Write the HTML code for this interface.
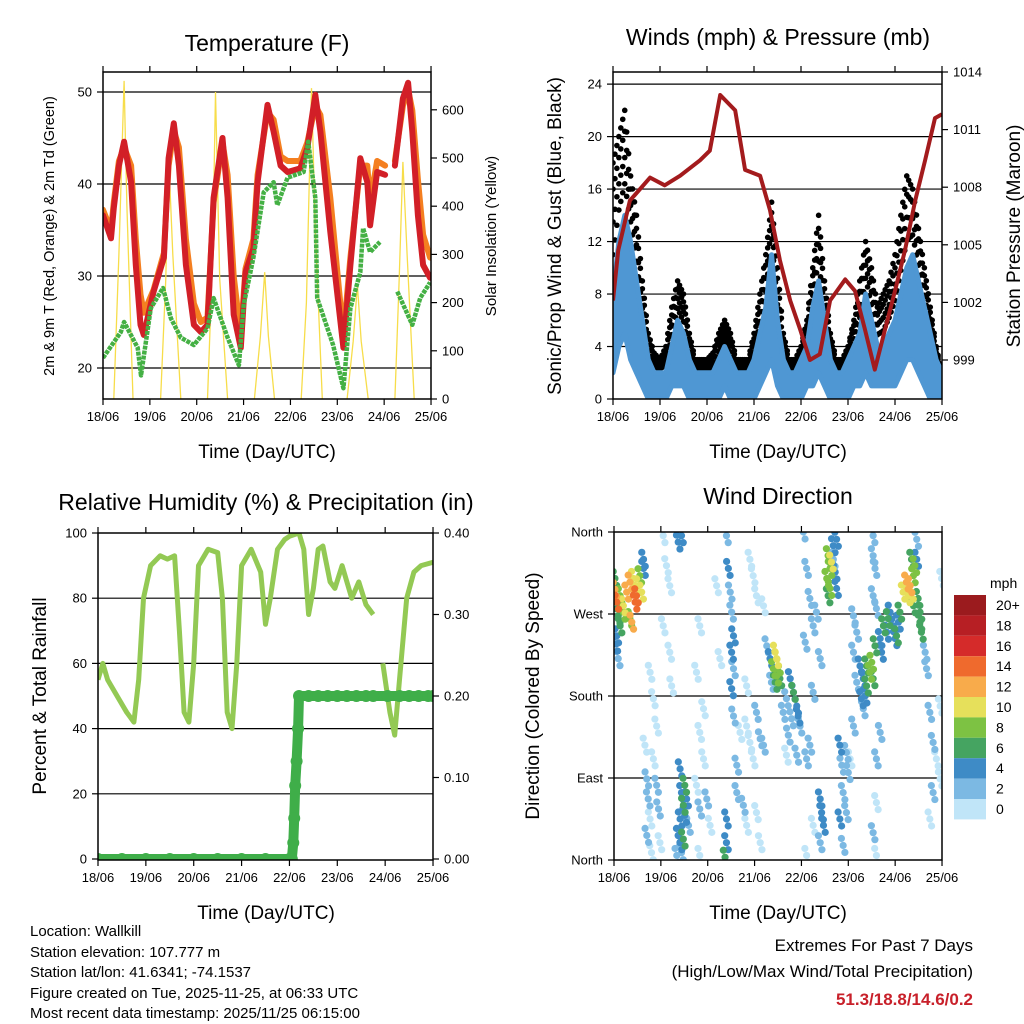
<!DOCTYPE html>
<html><head><meta charset="utf-8">
<style>
html,body{margin:0;padding:0;background:#fff;}
svg{display:block;font-family:"Liberation Sans",sans-serif;}
</style></head>
<body>
<svg id="root" width="1024" height="1024" viewBox="0 0 1024 1024">
<rect x="0" y="0" width="1024" height="1024" fill="#fff"/>
<text x="267" y="51" font-size="23" text-anchor="middle">Temperature (F)</text>
<text x="778" y="45" font-size="23" text-anchor="middle">Winds (mph) &amp; Pressure (mb)</text>
<text x="266" y="510" font-size="23" text-anchor="middle">Relative Humidity (%) &amp; Precipitation (in)</text>
<text x="778" y="504" font-size="23" text-anchor="middle">Wind Direction</text>
<text x="267" y="458" font-size="19" text-anchor="middle">Time (Day/UTC)</text>
<text x="778" y="458" font-size="19" text-anchor="middle">Time (Day/UTC)</text>
<text x="266" y="919" font-size="19" text-anchor="middle">Time (Day/UTC)</text>
<text x="778" y="919" font-size="19" text-anchor="middle">Time (Day/UTC)</text>
<text transform="translate(54,236) rotate(-90)" font-size="14.5" text-anchor="middle">2m &amp; 9m T (Red, Orange) &amp; 2m Td (Green)</text>
<text transform="translate(496,236) rotate(-90)" font-size="15" text-anchor="middle">Solar Insolation (Yellow)</text>
<text transform="translate(561,236) rotate(-90)" font-size="19" text-anchor="middle">Sonic/Prop Wind &amp; Gust (Blue, Black)</text>
<text transform="translate(1020,236) rotate(-90)" font-size="19" text-anchor="middle">Station Pressure (Maroon)</text>
<text transform="translate(46,696) rotate(-90)" font-size="19" text-anchor="middle">Percent &amp; Total Rainfall</text>
<text transform="translate(539,696) rotate(-90)" font-size="19" text-anchor="middle">Direction (Colored By Speed)</text>
<g font-size="15">
<text x="30" y="936">Location: Wallkill</text>
<text x="30" y="957">Station elevation: 107.777 m</text>
<text x="30" y="977">Station lat/lon: 41.6341; -74.1537</text>
<text x="30" y="998">Figure created on Tue, 2025-11-25, at 06:33 UTC</text>
<text x="30" y="1018">Most recent data timestamp: 2025/11/25 06:15:00</text>
</g>
<g font-size="17" text-anchor="end">
<text x="973" y="951">Extremes For Past 7 Days</text>
<text x="973" y="977">(High/Low/Max Wind/Total Precipitation)</text>
<text x="973" y="1005" font-weight="bold" fill="#c8202a">51.3/18.8/14.6/0.2</text>
</g>
<g id="marks"></g>
</svg>
<script>
// ---------- DATA ----------
const dayLabels = ["18/06","19/06","20/06","21/06","22/06","23/06","24/06","25/06"];
const tRedT = [0,0.17,0.23,0.34,0.45,0.6,0.7,0.8,0.87,1.08,1.3,1.4,1.51,1.62,1.77,1.94,2.09,2.23,2.36,2.55,2.66,2.79,2.94,3.04,3.21,3.3,3.51,3.64,3.79,3.94,4.21,4.36,4.53,4.64,4.85,5.13,5.28,5.49,5.64,5.7,5.85,6.02,null,6.23,6.4,6.51,6.6,6.72,6.83,6.98];
const tRedV = [36.6,34.1,37.4,42,44.6,40.2,31.2,24.7,23.6,28.3,32,42.8,46.6,42,31.2,24.7,23.9,24.7,38.5,45,38.5,25.8,22.2,30.4,33,40.2,48.6,45.7,42,41.3,41.7,43.9,49.7,45.7,34.8,22.2,31.2,42.8,40.2,35.5,41.3,41,null,42,49.3,51,45.7,36.6,31.2,29.8];
const tOrgV = [37.2,35,38,42.5,44,42,34,28,26,28.5,32.5,42,45.8,44,34,27,25,25.5,38,44.5,41,30,23.5,30.8,34,41,47.8,47,43,42.5,42.5,44.5,48.5,47.5,38.5,23.5,32,42,42,38,42.5,42,null,42.5,48.5,50.3,48,40.5,34.5,32];
const tdT = [0,0.38,0.45,0.74,0.81,1.02,1.28,1.45,1.66,1.94,2.23,2.36,2.66,2.9,3.0,3.21,3.43,3.64,3.72,3.94,4.28,4.38,4.53,4.57,4.91,5.13,5.28,5.49,5.55,5.7,5.91,null,6.28,6.6,6.77,6.98];
const tdV = [21.1,23.9,25,22.2,19.2,26.5,28.7,25.4,23.3,22.5,24.3,27.6,23.3,20.3,26.8,32,39.1,40.2,37.7,40.7,41.3,44.6,38.5,27.6,22.5,17.8,26.5,30.4,35.2,32.6,33.7,null,28.3,24.7,27.6,29.3];
const solT = [0.23,0.34,0.45,0.51,0.64,null,1.23,1.34,1.4,1.49,1.66,null,2.23,2.34,2.4,2.49,2.66,null,3.23,3.36,3.45,3.53,3.66,null,4.23,4.34,4.45,4.53,4.68,null,5.21,5.34,5.43,5.51,5.66,null,6.23,6.32,6.4,6.49,6.64];
const solV = [0,300,660,400,0,null,0,250,506,300,0,null,0,300,637,250,0,null,0,130,263,130,0,null,0,200,645,350,0,null,0,120,236,120,0,null,0,250,492,300,0];
const windT = [0,0.125,0.25,0.375,0.5,0.625,0.75,0.875,1,1.125,1.25,1.375,1.5,1.625,1.75,1.875,2,2.125,2.25,2.375,2.5,2.625,2.75,2.875,3,3.125,3.25,3.375,3.5,3.625,3.75,3.875,4,4.125,4.25,4.375,4.5,4.625,4.75,4.875,5,5.125,5.25,5.375,5.5,5.625,5.75,5.875,6,6.125,6.25,6.375,6.5,6.625,6.75,6.875,7];
const windHigh = [8,12,14,12,9,6,3,2,2,2,4,6,5,3,2,2,2,2,3,4,3,2,2,2,3,5,7,11,6,3,2,2,3,4,7,9,6,3,2,2,3,4,5,8,6,4,4,5,6,8,10,11,9,7,5,3,2];
const windLow = [2,4,5,3,2,1,0,0,0,0,1,1,1,0,0,0,0,0,0,1,0,0,0,0,0,1,2,3,1,0,0,0,0,1,1,2,1,0,0,0,0,1,1,2,1,1,1,1,1,2,3,3,2,1,0,0,0];
const gustV = [18,20,22,17,14,9,5,3.5,3,4,7,9,8,5,3,3,3,3.5,5,6,5,3,3,3,5,8,11,15,10,5,3,3,4,6,10,14,9,5,3,3,4,6,9,12,10,7,8,9,11,14,17,16,13,10,7,4,2];
const presT = [0,0.11,0.36,0.79,1.1,1.43,1.85,2.06,2.28,2.6,2.81,3.13,3.34,3.55,3.77,3.98,4.19,4.4,4.62,4.94,5.15,5.36,5.57,5.79,6.0,6.21,6.43,6.64,6.85,7.0];
const presV = [1002.1,1004.7,1007.3,1008.5,1008.1,1008.6,1009.4,1009.9,1012.8,1012,1008.9,1008.6,1006.8,1004.2,1002.1,1000.6,999,999.3,1002.1,1003.2,1002.6,1000.6,998.5,1000.6,1002.6,1004.7,1007.3,1009.4,1011.6,1011.8];
const rhT = [0,0.1,0.2,0.4,0.6,0.75,0.85,0.95,1.1,1.3,1.45,1.6,1.7,1.8,1.9,2.0,2.1,2.3,2.5,2.6,2.7,2.8,2.9,3.0,3.2,3.4,3.5,3.6,3.75,3.9,4.0,4.2,4.3,4.4,4.5,4.6,4.7,4.85,4.95,5.1,5.3,5.45,5.6,5.75,null,5.95,6.1,6.2,6.3,6.45,6.6,6.75,7.0];
const rhV = [55,60,55,50,45,42,55,80,90,93,92,93,70,45,42,60,90,95,94,80,45,40,60,90,95,88,72,80,95,98,99,100,95,75,83,95,96,85,83,90,80,85,78,75,null,60,45,38,55,80,88,90,91];
const prT = [0,0.5,1,1.5,2,2.5,3,3.5,4,4.05,4.08,4.1,4.12,4.15,4.18,4.2,4.4,4.6,4.8,5.0,5.2,5.4,5.6,5.75,6.05,6.3,6.5,6.7,6.9,7.0];
const prV = [0,0,0,0,0,0,0,0,0,0,0.02,0.05,0.09,0.12,0.16,0.2,0.2,0.2,0.2,0.2,0.2,0.2,0.2,0.2,0.2,0.2,0.2,0.2,0.2,0.2];
const dirDay = [0.02,0.06,0.13,0.2,0.27,0.34,0.41,0.45,0.48,0.52,0.55,0.59,0.09,0.13,0.06,0.04,0.2,0.34,0.38,0.63,0.63,0.09,0.02,
0.66,0.7,0.73,0.77,0.7,0.84,0.91,0.95,0.98,0.8,0.77,0.84,0.91,1.05,1.12,1.19,1.19,1.23,1.05,
1.41,1.44,1.48,1.51,1.41,1.37,1.48,1.44,1.55,1.59,1.34,1.51,1.41,1.44,1.37,
1.76,1.83,1.91,1.98,2.05,1.83,1.91,1.76,1.83,1.83,
2.4,2.44,2.48,2.51,2.55,2.51,2.55,2.51,2.55,2.62,2.4,2.4,2.37,2.62,2.69,2.26,2.19,
2.83,2.9,2.97,3.04,3.12,3.19,2.83,2.9,2.97,3.04,3.19,2.76,2.83,3.04,3.12,
3.44,3.47,3.51,3.4,3.54,3.33,3.36,3.47,3.26,3.44,
3.68,3.76,3.83,3.9,3.79,3.93,3.61,3.97,3.72,
4.04,4.11,4.18,4.25,4.08,4.32,4.4,4.25,4.18,4.11,4.4,4.43,4.47,4.4,4.25,4.11,3.9,3.68,
4.57,4.61,4.64,4.54,4.61,4.57,4.68,4.72,4.75,4.68,4.75,
4.82,4.86,4.89,4.96,5.0,4.96,4.82,5.04,4.89,5.11,
5.25,5.32,5.39,5.46,5.5,5.39,5.36,5.28,5.32,5.18,5.11,5.53,
5.68,5.75,5.82,5.85,5.89,5.96,6.0,6.03,6.1,5.71,5.57,6.07,
6.17,6.24,6.32,6.35,6.39,6.28,6.42,6.49,6.53,6.56,6.53,6.39,6.46,6.35,
6.64,6.67,6.74,6.81,6.88,6.96,6.81,6.74,6.96,6.99,6.46,5.53,5.53,5.57,5.53,5.6,5.18,5.11,5.68,5.6,5.6,5.53,5.6];
const dirDeg = [297,283,290,279,294,305,309,283,290,301,312,294,268,257,246,237,272,265,261,330,320,221,309,
126,89,67,45,27,111,82,56,19,8,206,177,147,356,323,301,228,191,257,
100,74,60,49,45,27,23,8,67,38,5,82,19,356,349,
82,56,111,67,38,140,166,206,257,5,
356,320,294,272,246,228,210,188,158,104,45,19,3,74,140,221,301,
147,129,111,162,133,126,191,330,312,290,279,60,38,52,19,
228,221,213,210,199,221,195,202,235,195,
177,199,184,169,155,158,162,147,137,
360,320,287,257,239,272,221,184,126,111,67,52,38,19,38,5,115,115,
334,320,327,309,298,290,345,316,352,330,298,
126,104,74,118,96,52,45,111,16,147,
213,199,213,206,217,191,180,177,166,195,228,199,
243,257,250,265,272,257,243,246,272,228,235,261,
294,305,301,294,312,290,323,287,261,250,272,279,330,330,
228,210,162,129,111,89,74,45,169,309,352,356,334,320,290,276,250,268,140,111,63,30,5];
const dirSpd = [12,14,9,11,13,12,10,15,14,11,8,10,7,6,5,4,8,9,12,4,5,3,6,
1,2,3,1,2,1,2,3,1,1,1,1,1,1,1,1,1,1,1,
4,5,6,5,4,4,6,3,4,3,3,6,5,4,4,
1,2,1,2,1,1,1,1,1,1,
3,4,3,3,4,4,3,4,3,2,5,4,6,2,1,1,1,
1,1,1,2,3,2,1,1,1,1,1,2,1,1,1,
10,10,9,8,7,4,3,8,3,7,
3,4,6,4,3,4,2,3,2,
2,2,2,3,2,3,2,2,2,2,4,5,4,3,1,1,2,1,
8,9,10,8,9,7,4,4,4,3,4,
4,3,3,2,2,2,4,1,2,2,
4,5,7,8,8,6,4,4,3,3,2,6,
5,6,5,6,4,5,4,6,6,4,7,4,
11,12,13,11,9,10,8,6,7,7,6,6,5,7,
3,3,2,2,1,1,2,1,1,1,3,3,3,2,3,2,3,2,2,2,1,3,1];
const speedLabels = ["20+","18","16","14","12","10","8","6","4","2","0"];
const speedColors = ["#9b1b1e","#b71f24","#d52b2a","#ef6a2d","#f8ab4b","#e6e05b","#7dc243","#45a461","#3e8bc6","#7cb9e3","#c0e5f8"];

// ---------- SCALES ----------
const X1 = d => 103 + d*46.86, Yt = v => 368 - (v-20)*9.2, Ys = v => 399 - v*0.482;
const X2 = d => 613 + d*47.0, Yw = v => 399 - v*13.12, Yp = p => 360 - (p-999)*19.2;
const X3 = d => 98 + d*47.86, Yr = v => 859 - v*3.26, Yq = p => 859 - p*815;
const X4 = d => 614 + d*46.86, Yd = g => 860 - g*0.9111;

const NS = "http://www.w3.org/2000/svg";
const root = document.getElementById("marks");
function mk(tag, attrs, parent){
  const el = document.createElementNS(NS, tag);
  for (const k in attrs) el.setAttribute(k, attrs[k]);
  (parent||root).appendChild(el);
  return el;
}
function pathFrom(ts, vs, fx, fy){
  let d = "", pen = false;
  for (let i=0;i<ts.length;i++){
    if (ts[i]===null || vs[i]===null){ pen=false; continue; }
    d += (pen?"L":"M") + fx(ts[i]).toFixed(1) + "," + fy(vs[i]).toFixed(1);
    pen = true;
  }
  return d;
}
function clip(id, x, y, w, h){
  let defs = document.getElementById("defs");
  if (!defs){ defs = mk("defs", {id:"defs"}); }
  const c = mk("clipPath", {id:id}, defs);
  mk("rect", {x:x, y:y, width:w, height:h}, c);
}
clip("c1",103,72,328,327); clip("c2",613,72,329,327); clip("c3",98,533,335,327); clip("c4",614,532,328,328);

function hline(x1,x2,y,name){
  const l = mk("line",{x1:x1,x2:x2,y1:y,y2:y,stroke:"#000","stroke-width":1.2});
  
  
}
function xTicks(fx, y0, y1, name){
  for (let i=0;i<dayLabels.length;i++){
    const x = fx(i);
    const a = mk("line",{x1:x,x2:x,y1:y1,y2:y1+6,stroke:"#000","stroke-width":1.2});
    
    
    const b = mk("line",{x1:x,x2:x,y1:y0-6,y2:y0,stroke:"#000","stroke-width":1.2});
    
    
    const t = mk("text",{x:x,y:y1+22,"font-size":13,"text-anchor":"middle"});
    t.textContent = dayLabels[i];
    
    
  }
}
// axisX: position of the axis line; side: 'left' or 'right'
function yLabel(axisX, y, txt, side, name){
  const left = side==="left";
  const t = mk("text",{x: left? axisX-11 : axisX+11, y:y+4.5,"font-size":13,"text-anchor": left?"end":"start"});
  t.textContent = txt;
  
  
  const tk = mk("line",{x1: left? axisX-6 : axisX, x2: left? axisX : axisX+6, y1:y, y2:y, stroke:"#000","stroke-width":1.2});
  
  
}
function frame(x,y,w,h,name){
  const r = mk("rect",{x:x,y:y,width:w,height:h,fill:"none",stroke:"#000","stroke-width":1.5});
  
  
}

// ---------- PANEL 1: TEMPERATURE ----------
[20,30,40,50].forEach(v=>{ hline(103,431,Yt(v),'temp-gridline'); yLabel(103,Yt(v),String(v),"left",'temp-y-tick-label'); });
[0,100,200,300,400,500,600].forEach(v=>{ yLabel(431,Ys(v),String(v),"right",'solar-y-tick-label'); });
const g1 = mk("g",{"clip-path":"url(#c1)"});


const solar = mk("path",{d:pathFrom(solT,solV,X1,Ys),fill:"none",stroke:"#f7dd4a","stroke-width":1.3},g1);


const orange = mk("path",{d:pathFrom(tRedT,tOrgV,X1,Yt),fill:"none",stroke:"#f47f20","stroke-width":6,"stroke-linejoin":"round","stroke-linecap":"round"},g1);


const red = mk("path",{d:pathFrom(tRedT,tRedV,X1,Yt),fill:"none",stroke:"#d21f27","stroke-width":6,"stroke-linejoin":"round","stroke-linecap":"round"},g1);


const td = mk("path",{d:pathFrom(tdT,tdV,X1,Yt),fill:"none",stroke:"#44b044","stroke-width":4.5,"stroke-linejoin":"round","stroke-dasharray":"4 1"},g1);


frame(103,72,328,327,'temperature-plot-frame');
xTicks(X1,72,399,'temp');

// ---------- PANEL 2: WINDS ----------
[4,8,12,16,20,24].forEach(v=>hline(613,942,Yw(v),'wind-gridline'));
[0,4,8,12,16,20,24].forEach(v=>yLabel(613,Yw(v),String(v),"left",'wind-y-tick-label'));
[999,1002,1005,1008,1011,1014].forEach(v=>yLabel(942,Yp(v),String(v),"right",'pressure-y-tick-label'));
const g2 = mk("g",{"clip-path":"url(#c2)"});


for (let i=0;i<windT.length;i++){
  const nxt = Math.min(i+1, windT.length-1);
  for (const f of [0, 0.33, 0.66]){
    const tt = windT[i] + (windT[nxt]-windT[i])*f;
    const hiV = gustV[i] + (gustV[nxt]-gustV[i])*f;
    const loV = windHigh[i] + (windHigh[nxt]-windHigh[i])*f;
    for (const k of [0, 0.2, 0.45, 0.7]){
      const c = mk("circle",{cx:X2(tt),cy:Yw(hiV - (hiV-loV)*k),r:2.8,fill:"#000"},g2);
      
      
    }
  }
}
let band = "";
for (let i=0;i<windT.length;i++) band += (i?"L":"M")+X2(windT[i]).toFixed(1)+","+Yw(windHigh[i]).toFixed(1);
for (let i=windT.length-1;i>=0;i--) band += "L"+X2(windT[i]).toFixed(1)+","+Yw(windLow[i]).toFixed(1);
band += "Z";
const wb = mk("path",{d:band,fill:"#4f97d3",stroke:"#4f97d3","stroke-width":5,"stroke-linejoin":"round"},g2);


const pr = mk("path",{d:pathFrom(presT,presV,X2,Yp),fill:"none",stroke:"#a31b1d","stroke-width":4,"stroke-linejoin":"round"},g2);


frame(613,72,329,327,'winds-plot-frame');
xTicks(X2,72,399,'wind');

// ---------- PANEL 3: RH ----------
[20,40,60,80].forEach(v=>hline(98,433,Yr(v),'rh-gridline'));
[0,20,40,60,80,100].forEach(v=>yLabel(98,Yr(v),String(v),"left",'rh-y-tick-label'));
[0,0.1,0.2,0.3,0.4].forEach(v=>yLabel(433,Yq(v),v.toFixed(2),"right",'precip-y-tick-label'));
const g3 = mk("g",{"clip-path":"url(#c3)"});


const rh = mk("path",{d:pathFrom(rhT,rhV,X3,Yr),fill:"none",stroke:"#93c954","stroke-width":5,"stroke-linejoin":"round"},g3);


const prl = mk("path",{d:pathFrom(prT,prV,X3,Yq),fill:"none",stroke:"#3fae49","stroke-width":10,"stroke-linejoin":"round","stroke-linecap":"round"},g3);


for (let i=0;i<prT.length;i++){
  const c = mk("circle",{cx:X3(prT[i]),cy:Yq(prV[i]),r:6,fill:"#3fae49"},g3);
  
  
}
frame(98,533,335,327,'rh-plot-frame');
xTicks(X3,533,860,'rh');

// ---------- PANEL 4: WIND DIRECTION ----------
const dirNames = ["North","East","South","West","North"];
[90,180,270].forEach(v=>hline(614,942,Yd(v),'direction-gridline'));
[0,90,180,270,360].forEach((v,i)=>yLabel(614,Yd(v),dirNames[i],"left",'direction-y-tick-label'));
const g4 = mk("g",{"clip-path":"url(#c4)"});


const order = dirSpd.map((s,i)=>i).sort((a,b)=>dirSpd[a]-dirSpd[b]);
for (const i of order){
  const bin = Math.min(10, Math.floor(dirSpd[i]/2));
  for (const off of [-7, 0, 7]){
    const c = mk("circle",{cx:X4(dirDay[i]) + off*0.25,cy:Yd(dirDeg[i]) + off,r:3.6,fill:speedColors[10-bin]},g4);
    
    
  }
}
frame(614,532,328,328,'direction-plot-frame');
xTicks(X4,532,860,'dir');
const cbt = mk("text",{x:990,y:588,"font-size":14});
cbt.textContent = "mph";


for (let i=0;i<speedLabels.length;i++){
  const y = 595 + i*20.4;
  const r = mk("rect",{x:954,y:y,width:32,height:20.4,fill:speedColors[i]});
  
  
  const t = mk("text",{x:996,y:y+15,"font-size":14});
  t.textContent = speedLabels[i];
  
  
}
</script>
</body></html>
